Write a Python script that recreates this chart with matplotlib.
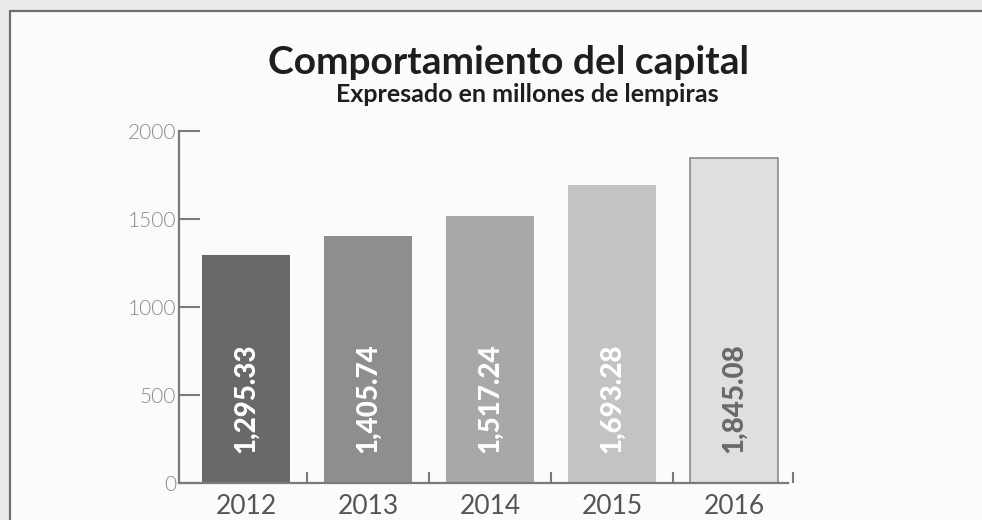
# -*- coding:UTF-8 -*-
# Comportamiento del capital - bar chart
import matplotlib.pyplot as plt
from matplotlib.patches import Rectangle
from matplotlib.ticker import FixedLocator

# ---------------------------------------------------#
# data
# ---------------------------------------------------#
years = ["2012", "2013", "2014", "2015", "2016"]
capital = [1295.33, 1405.74, 1517.24, 1693.28, 1845.08]
labels = ["1,295.33", "1,405.74", "1,517.24", "1,693.28", "1,845.08"]
y_ticks = [0, 500, 1000, 1500, 2000]

bar_colors = ["#6a6869", "#8e8e90", "#a8a8aa", "#c3c3c5", "#dfdfe0"]
label_colors = ["white", "white", "white", "white", "#6a6869"]

plt.rcParams["font.family"] = ["Lato", "DejaVu Sans"]

W, H = 982, 520
fig = plt.figure(figsize=(W / 100, H / 100), dpi=100)
fig.patch.set_facecolor("#ebebeb")

# framed panel
fig.patches.append(Rectangle((10 / W, -0.05), 1.1, 1 - 11 / H + 0.05, transform=fig.transFigure,
                             facecolor="#fbfbfb", edgecolor="#6e6e6e", linewidth=1.6, zorder=-5))

ax = fig.add_axes([179 / W, (H - 483) / H, 616 / W, 352 / H])
ax.set_facecolor("none")
ax.set_zorder(2)

x_pos = list(range(len(years)))
ax.bar(x_pos, capital, width=0.72, color=bar_colors,
       edgecolor=["none"] * 4 + ["#8a8a8a"], linewidth=1.2, zorder=2)
for xx, lab, col in zip(x_pos, labels, label_colors):
    ax.text(xx, 480, lab, rotation=90, ha="center", va="center", color=col,
            fontsize=20, fontweight=900, zorder=3)

ax.set_xlim(-0.549, 4.5)
ax.set_ylim(0, 2000)

for sp in ["top", "right"]:
    ax.spines[sp].set_visible(False)
for sp in ["left", "bottom"]:
    ax.spines[sp].set_color("#7a7a7a")
    ax.spines[sp].set_linewidth(1.6)
ax.spines["bottom"].set_bounds(-0.549, 4.44)

ax.set_yticks(y_ticks)
ax.set_yticklabels([str(v) for v in y_ticks], fontsize=15, fontweight=300, color="#8a8a8a")
ax.tick_params(axis="y", direction="in", length=15, width=1.5, color="#7a7a7a", pad=2)

ax.set_xticks(x_pos)
ax.set_xticklabels(years, fontsize=19, color="#555555")
ax.tick_params(axis="x", which="major", length=0, pad=8)
ax.xaxis.set_minor_locator(FixedLocator([0.5, 1.5, 2.5, 3.5, 4.48]))
ax.tick_params(axis="x", which="minor", direction="in", length=8, width=1.5, color="#7a7a7a")

fig.text(508 / W, 1 - 62 / H, "Comportamiento del capital", ha="center", va="center",
         fontsize=28, fontweight="bold", color="#1e1e1e")
fig.text(527 / W, 1 - 95 / H, "Expresado en millones de lempiras", ha="center", va="center",
         fontsize=18, fontweight="bold", color="#1e1e1e")

plt.savefig("out.png", dpi=100, facecolor=fig.get_facecolor())
plt.close()
